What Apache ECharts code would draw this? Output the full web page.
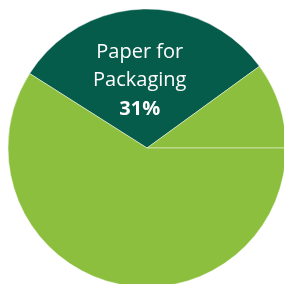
<!DOCTYPE html>
<html>
<head>
<meta charset="utf-8">
<script src="https://cdn.jsdelivr.net/npm/echarts@6/dist/echarts.min.js"></script>
<style>html,body{margin:0;padding:0;background:#fff}#c{width:284px;height:284px}</style>
</head>
<body>
<div id="c"></div>
<script>
const categories = ["Paper for\nPackaging", "Other A", "Other B"];
const values = [31, 10, 59];
const colors = ["#065C4B", "#8DBF3F", "#8DBF3F"];
const showLabel = [true, false, false];

const chart = echarts.init(document.getElementById('c'), null, {renderer: 'canvas'});
chart.setOption({
  animation: false,
  series: [{
    type: 'pie',
    center: [147, 148],
    radius: [0, 139],
    startAngle: 147.6,
    clockwise: true,
    data: categories.map((n, i) => ({
      name: n, value: values[i],
      itemStyle: {color: colors[i]},
      label: {show: showLabel[i]}
    })),
    itemStyle: {borderColor: 'rgba(255,255,255,0.45)', borderWidth: 1},
    labelLine: {show: false},
    label: {
      position: 'inside',
      formatter: p => '{n|' + p.name + '}\n{v|' + Math.round(p.value) + '%}',
      padding: [12, 10, 0, 0],
      rich: {
        n: {fontFamily: 'Open Sans', fontSize: 20, color: '#fff', lineHeight: 28, align: 'center'},
        v: {fontFamily: 'Open Sans', fontSize: 20, fontWeight: 'bold', color: '#fff', lineHeight: 30, align: 'center'}
      }
    },
    emphasis: {disabled: true}
  }]
});
</script>
</body>
</html>
